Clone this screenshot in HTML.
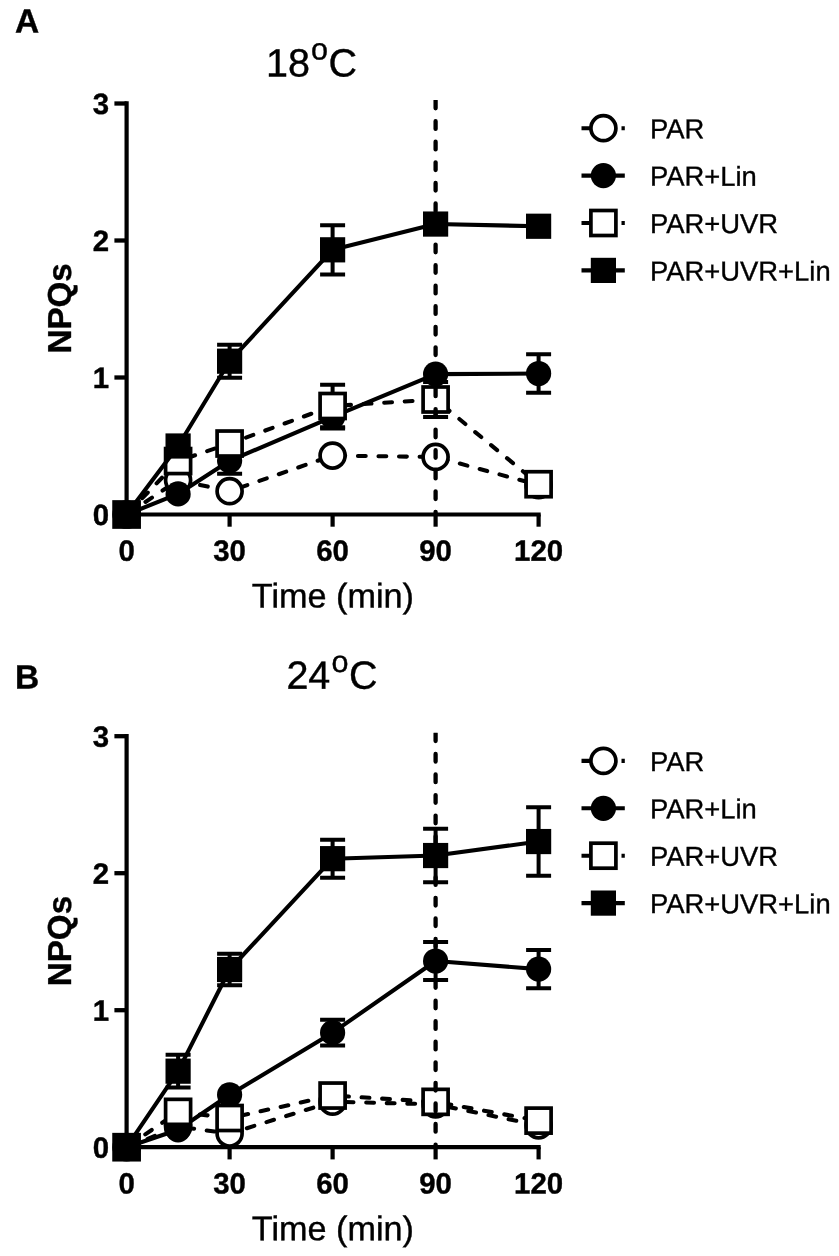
<!DOCTYPE html>
<html lang="en"><head><meta charset="utf-8"><title>NPQs</title>
<style>
html,body{margin:0;padding:0;background:#fff}
body{width:839px;height:1256px;overflow:hidden}
svg{display:block}
text{font-family:"Liberation Sans",sans-serif;fill:#000}
.tk{font-weight:bold;font-size:29.4px;stroke:#000;stroke-width:0.4px}
.lg{font-size:27.4px;stroke:#000;stroke-width:0.35px}
.ax{font-size:34.2px;stroke:#000;stroke-width:0.4px}
.yl{font-weight:bold;font-size:33.2px;stroke:#000;stroke-width:0.4px}
.tt{font-size:39.5px;stroke:#000;stroke-width:0.4px}
.sup{font-size:30.5px;stroke:#000;stroke-width:0.4px}
.pl{font-weight:bold;font-size:33.5px;stroke:#000;stroke-width:0.4px}
</style></head><body>
<svg width="839" height="1256" viewBox="0 0 839 1256">
<rect width="839" height="1256" fill="#fff"/>
<path d="M126.60 101.30V516.60" stroke="#000" stroke-width="4.2" fill="none"/>
<path d="M124.50 514.50H540.70" stroke="#000" stroke-width="4.2" fill="none"/>
<path d="M114.40 514.50H126.60" stroke="#000" stroke-width="4.3"/>
<text transform="translate(109.00 525.00) rotate(0.03)" class="tk" text-anchor="end">0</text>
<path d="M114.40 377.50H126.60" stroke="#000" stroke-width="4.3"/>
<text transform="translate(109.00 388.00) rotate(0.03)" class="tk" text-anchor="end">1</text>
<path d="M114.40 240.50H126.60" stroke="#000" stroke-width="4.3"/>
<text transform="translate(109.00 251.00) rotate(0.03)" class="tk" text-anchor="end">2</text>
<path d="M114.40 103.50H126.60" stroke="#000" stroke-width="4.3"/>
<text transform="translate(109.00 114.00) rotate(0.03)" class="tk" text-anchor="end">3</text>
<path d="M126.60 514.50V526.70" stroke="#000" stroke-width="4.2"/>
<text transform="translate(126.60 560.70) rotate(0.03)" class="tk" text-anchor="middle">0</text>
<path d="M229.60 514.50V526.70" stroke="#000" stroke-width="4.2"/>
<text transform="translate(229.60 560.70) rotate(0.03)" class="tk" text-anchor="middle">30</text>
<path d="M332.60 514.50V526.70" stroke="#000" stroke-width="4.2"/>
<text transform="translate(332.60 560.70) rotate(0.03)" class="tk" text-anchor="middle">60</text>
<path d="M435.60 514.50V526.70" stroke="#000" stroke-width="4.2"/>
<text transform="translate(435.60 560.70) rotate(0.03)" class="tk" text-anchor="middle">90</text>
<path d="M538.60 514.50V526.70" stroke="#000" stroke-width="4.2"/>
<text transform="translate(538.60 560.70) rotate(0.03)" class="tk" text-anchor="middle">120</text>
<g><path d="M126.60 514.50 L178.10 480.25 L229.60 491.21 L332.60 455.59 L435.60 456.96 L538.60 485.05" stroke="#000" stroke-width="4.1" fill="none" stroke-linejoin="round" stroke-linecap="round" stroke-dasharray="7.8 12.76" stroke-dashoffset="-2.1"/><circle cx="126.60" cy="514.50" r="12.5" fill="#fff" stroke="#000" stroke-width="3.7"/><circle cx="178.10" cy="480.25" r="12.5" fill="#fff" stroke="#000" stroke-width="3.7"/><circle cx="229.60" cy="491.21" r="12.5" fill="#fff" stroke="#000" stroke-width="3.7"/><circle cx="332.60" cy="455.59" r="12.5" fill="#fff" stroke="#000" stroke-width="3.7"/><circle cx="435.60" cy="456.96" r="12.5" fill="#fff" stroke="#000" stroke-width="3.7"/><circle cx="538.60" cy="485.05" r="12.5" fill="#fff" stroke="#000" stroke-width="3.7"/></g>
<g><path d="M229.60 447.73V473.87M217.10 447.73h25M217.10 473.87h25" stroke="#000" stroke-width="4.0" fill="none"/><path d="M332.60 405.31V428.60M320.10 405.31h25M320.10 428.60h25" stroke="#000" stroke-width="4.0" fill="none"/><path d="M538.60 354.21V392.84M526.10 354.21h25M526.10 392.84h25" stroke="#000" stroke-width="4.0" fill="none"/><path d="M126.60 514.50 L178.10 493.95 L229.60 460.80 L332.60 416.96 L435.60 374.08 L538.60 373.53" stroke="#000" stroke-width="4.1" fill="none" stroke-linejoin="round"/><circle cx="126.60" cy="514.50" r="12.6" fill="#000"/><circle cx="178.10" cy="493.95" r="12.6" fill="#000"/><circle cx="229.60" cy="460.80" r="12.6" fill="#000"/><circle cx="332.60" cy="416.96" r="12.6" fill="#000"/><circle cx="435.60" cy="374.08" r="12.6" fill="#000"/><circle cx="538.60" cy="373.53" r="12.6" fill="#000"/></g>
<g><path d="M332.60 384.76V427.23M320.10 384.76h25M320.10 427.23h25" stroke="#000" stroke-width="4.0" fill="none"/><path d="M435.60 381.97V417.04M423.10 381.97h25M423.10 417.04h25" stroke="#000" stroke-width="4.0" fill="none"/><path d="M126.60 514.50 L178.10 461.07 L229.60 443.53 L332.60 406.00 L435.60 399.50 L538.60 484.22" stroke="#000" stroke-width="4.1" fill="none" stroke-linejoin="round" stroke-linecap="round" stroke-dasharray="7.8 12.76" stroke-dashoffset="-2.1"/><rect x="114.10" y="502.00" width="25" height="25" fill="#fff" stroke="#000" stroke-width="3.7"/><rect x="165.60" y="448.57" width="25" height="25" fill="#fff" stroke="#000" stroke-width="3.7"/><rect x="217.10" y="431.03" width="25" height="25" fill="#fff" stroke="#000" stroke-width="3.7"/><rect x="320.10" y="393.50" width="25" height="25" fill="#fff" stroke="#000" stroke-width="3.7"/><rect x="423.10" y="387.00" width="25" height="25" fill="#fff" stroke="#000" stroke-width="3.7"/><rect x="526.10" y="471.72" width="25" height="25" fill="#fff" stroke="#000" stroke-width="3.7"/></g>
<g><path d="M229.60 344.76V377.64M217.10 344.76h25M217.10 377.64h25" stroke="#000" stroke-width="4.0" fill="none"/><path d="M332.60 225.16V274.48M320.10 225.16h25M320.10 274.48h25" stroke="#000" stroke-width="4.0" fill="none"/><path d="M126.60 514.50 L178.10 446.00 L229.60 361.20 L332.60 249.82 L435.60 224.06 L538.60 226.25" stroke="#000" stroke-width="4.1" fill="none" stroke-linejoin="round"/><rect x="114.00" y="501.90" width="25.2" height="25.2" fill="#000"/><rect x="165.50" y="433.40" width="25.2" height="25.2" fill="#000"/><rect x="217.00" y="348.60" width="25.2" height="25.2" fill="#000"/><rect x="320.00" y="237.22" width="25.2" height="25.2" fill="#000"/><rect x="423.00" y="211.46" width="25.2" height="25.2" fill="#000"/><rect x="526.00" y="213.65" width="25.2" height="25.2" fill="#000"/></g>
<clipPath id="cA"><rect x="429.60" y="100.10" width="12" height="421.00"/></clipPath>
<path clip-path="url(#cA)" d="M435.60 100.65V514.50" stroke="#000" stroke-width="4.3" stroke-linecap="round" stroke-dasharray="7.7 12.86" fill="none"/>
<path d="M581.5 128.20H624.8" stroke="#000" stroke-width="4.1" stroke-dasharray="12 8"/>
<circle cx="603.40" cy="128.20" r="12.5" fill="#fff" stroke="#000" stroke-width="3.7"/>
<text transform="translate(650.00 138.20) rotate(0.03)" class="lg">PAR</text>
<path d="M581.5 175.60H624.8" stroke="#000" stroke-width="4.1"/>
<circle cx="603.40" cy="175.60" r="12.6" fill="#000"/>
<text transform="translate(650.00 185.60) rotate(0.03)" class="lg">PAR+Lin</text>
<path d="M581.5 223.00H624.8" stroke="#000" stroke-width="4.1" stroke-dasharray="12 8"/>
<rect x="590.90" y="210.50" width="25" height="25" fill="#fff" stroke="#000" stroke-width="3.7"/>
<text transform="translate(650.00 233.00) rotate(0.03)" class="lg">PAR+UVR</text>
<path d="M581.5 270.40H624.8" stroke="#000" stroke-width="4.1"/>
<rect x="590.80" y="257.80" width="25.2" height="25.2" fill="#000"/>
<text transform="translate(650.00 280.40) rotate(0.03)" class="lg">PAR+UVR+Lin</text>
<text transform="translate(332.90 607.50) rotate(0.03)" class="ax" text-anchor="middle">Time (min)</text>
<text transform="translate(71.00 308.40) rotate(-90.03)" class="yl" text-anchor="middle">NPQs</text>
<text transform="translate(266.00 76.50) rotate(0.03)" class="tt">18</text>
<text transform="translate(319.60 59.60) rotate(0.03)" class="sup" text-anchor="middle">o</text>
<text transform="translate(342.80 76.50) rotate(0.03)" class="tt" text-anchor="middle">C</text>
<text transform="translate(15.00 32.50) rotate(0.03)" class="pl">A</text>
<path d="M126.60 734.00V1149.30" stroke="#000" stroke-width="4.2" fill="none"/>
<path d="M124.50 1147.20H540.70" stroke="#000" stroke-width="4.2" fill="none"/>
<path d="M114.40 1147.20H126.60" stroke="#000" stroke-width="4.3"/>
<text transform="translate(109.00 1157.70) rotate(0.03)" class="tk" text-anchor="end">0</text>
<path d="M114.40 1010.20H126.60" stroke="#000" stroke-width="4.3"/>
<text transform="translate(109.00 1020.70) rotate(0.03)" class="tk" text-anchor="end">1</text>
<path d="M114.40 873.20H126.60" stroke="#000" stroke-width="4.3"/>
<text transform="translate(109.00 883.70) rotate(0.03)" class="tk" text-anchor="end">2</text>
<path d="M114.40 736.20H126.60" stroke="#000" stroke-width="4.3"/>
<text transform="translate(109.00 746.70) rotate(0.03)" class="tk" text-anchor="end">3</text>
<path d="M126.60 1147.20V1159.40" stroke="#000" stroke-width="4.2"/>
<text transform="translate(126.60 1193.40) rotate(0.03)" class="tk" text-anchor="middle">0</text>
<path d="M229.60 1147.20V1159.40" stroke="#000" stroke-width="4.2"/>
<text transform="translate(229.60 1193.40) rotate(0.03)" class="tk" text-anchor="middle">30</text>
<path d="M332.60 1147.20V1159.40" stroke="#000" stroke-width="4.2"/>
<text transform="translate(332.60 1193.40) rotate(0.03)" class="tk" text-anchor="middle">60</text>
<path d="M435.60 1147.20V1159.40" stroke="#000" stroke-width="4.2"/>
<text transform="translate(435.60 1193.40) rotate(0.03)" class="tk" text-anchor="middle">90</text>
<path d="M538.60 1147.20V1159.40" stroke="#000" stroke-width="4.2"/>
<text transform="translate(538.60 1193.40) rotate(0.03)" class="tk" text-anchor="middle">120</text>
<g><path d="M126.60 1147.20 L178.10 1126.65 L229.60 1133.50 L332.60 1101.72 L435.60 1104.32 L538.60 1125.28" stroke="#000" stroke-width="4.1" fill="none" stroke-linejoin="round" stroke-linecap="round" stroke-dasharray="7.8 12.76" stroke-dashoffset="-2.1"/><circle cx="126.60" cy="1147.20" r="12.5" fill="#fff" stroke="#000" stroke-width="3.7"/><circle cx="178.10" cy="1126.65" r="12.5" fill="#fff" stroke="#000" stroke-width="3.7"/><circle cx="229.60" cy="1133.50" r="12.5" fill="#fff" stroke="#000" stroke-width="3.7"/><circle cx="332.60" cy="1101.72" r="12.5" fill="#fff" stroke="#000" stroke-width="3.7"/><circle cx="435.60" cy="1104.32" r="12.5" fill="#fff" stroke="#000" stroke-width="3.7"/><circle cx="538.60" cy="1125.28" r="12.5" fill="#fff" stroke="#000" stroke-width="3.7"/></g>
<g><path d="M332.60 1019.79V1045.55M320.10 1019.79h25M320.10 1045.55h25" stroke="#000" stroke-width="4.0" fill="none"/><path d="M435.60 941.97V980.06M423.10 941.97h25M423.10 980.06h25" stroke="#000" stroke-width="4.0" fill="none"/><path d="M538.60 950.06V988.14M526.10 950.06h25M526.10 988.14h25" stroke="#000" stroke-width="4.0" fill="none"/><path d="M126.60 1147.20 L178.10 1129.80 L229.60 1094.73 L332.60 1032.67 L435.60 961.02 L538.60 969.10" stroke="#000" stroke-width="4.1" fill="none" stroke-linejoin="round"/><circle cx="126.60" cy="1147.20" r="12.6" fill="#000"/><circle cx="178.10" cy="1129.80" r="12.6" fill="#000"/><circle cx="229.60" cy="1094.73" r="12.6" fill="#000"/><circle cx="332.60" cy="1032.67" r="12.6" fill="#000"/><circle cx="435.60" cy="961.02" r="12.6" fill="#000"/><circle cx="538.60" cy="969.10" r="12.6" fill="#000"/></g>
<g><path d="M126.60 1147.20 L178.10 1111.85 L229.60 1118.02 L332.60 1095.55 L435.60 1101.85 L538.60 1120.62" stroke="#000" stroke-width="4.1" fill="none" stroke-linejoin="round" stroke-linecap="round" stroke-dasharray="7.8 12.76" stroke-dashoffset="-2.1"/><rect x="114.10" y="1134.70" width="25" height="25" fill="#fff" stroke="#000" stroke-width="3.7"/><rect x="165.60" y="1099.35" width="25" height="25" fill="#fff" stroke="#000" stroke-width="3.7"/><rect x="217.10" y="1105.52" width="25" height="25" fill="#fff" stroke="#000" stroke-width="3.7"/><rect x="320.10" y="1083.05" width="25" height="25" fill="#fff" stroke="#000" stroke-width="3.7"/><rect x="423.10" y="1089.35" width="25" height="25" fill="#fff" stroke="#000" stroke-width="3.7"/><rect x="526.10" y="1108.12" width="25" height="25" fill="#fff" stroke="#000" stroke-width="3.7"/></g>
<g><path d="M178.10 1054.73V1087.61M165.60 1054.73h25M165.60 1087.61h25" stroke="#000" stroke-width="4.0" fill="none"/><path d="M229.60 953.76V985.27M217.10 953.76h25M217.10 985.27h25" stroke="#000" stroke-width="4.0" fill="none"/><path d="M332.60 839.63V877.72M320.10 839.63h25M320.10 877.72h25" stroke="#000" stroke-width="4.0" fill="none"/><path d="M435.60 828.81V882.24M423.10 828.81h25M423.10 882.24h25" stroke="#000" stroke-width="4.0" fill="none"/><path d="M538.60 807.30V875.80M526.10 807.30h25M526.10 875.80h25" stroke="#000" stroke-width="4.0" fill="none"/><path d="M126.60 1147.20 L178.10 1071.16 L229.60 969.51 L332.60 858.68 L435.60 855.53 L538.60 841.55" stroke="#000" stroke-width="4.1" fill="none" stroke-linejoin="round"/><rect x="114.00" y="1134.60" width="25.2" height="25.2" fill="#000"/><rect x="165.50" y="1058.57" width="25.2" height="25.2" fill="#000"/><rect x="217.00" y="956.91" width="25.2" height="25.2" fill="#000"/><rect x="320.00" y="846.08" width="25.2" height="25.2" fill="#000"/><rect x="423.00" y="842.93" width="25.2" height="25.2" fill="#000"/><rect x="526.00" y="828.95" width="25.2" height="25.2" fill="#000"/></g>
<clipPath id="cB"><rect x="429.60" y="732.80" width="12" height="421.00"/></clipPath>
<path clip-path="url(#cB)" d="M435.60 733.35V1147.20" stroke="#000" stroke-width="4.3" stroke-linecap="round" stroke-dasharray="7.7 12.86" fill="none"/>
<path d="M581.5 760.90H624.8" stroke="#000" stroke-width="4.1" stroke-dasharray="12 8"/>
<circle cx="603.40" cy="760.90" r="12.5" fill="#fff" stroke="#000" stroke-width="3.7"/>
<text transform="translate(650.00 770.90) rotate(0.03)" class="lg">PAR</text>
<path d="M581.5 808.30H624.8" stroke="#000" stroke-width="4.1"/>
<circle cx="603.40" cy="808.30" r="12.6" fill="#000"/>
<text transform="translate(650.00 818.30) rotate(0.03)" class="lg">PAR+Lin</text>
<path d="M581.5 855.70H624.8" stroke="#000" stroke-width="4.1" stroke-dasharray="12 8"/>
<rect x="590.90" y="843.20" width="25" height="25" fill="#fff" stroke="#000" stroke-width="3.7"/>
<text transform="translate(650.00 865.70) rotate(0.03)" class="lg">PAR+UVR</text>
<path d="M581.5 903.10H624.8" stroke="#000" stroke-width="4.1"/>
<rect x="590.80" y="890.50" width="25.2" height="25.2" fill="#000"/>
<text transform="translate(650.00 913.10) rotate(0.03)" class="lg">PAR+UVR+Lin</text>
<text transform="translate(332.90 1240.20) rotate(0.03)" class="ax" text-anchor="middle">Time (min)</text>
<text transform="translate(71.00 941.10) rotate(-90.03)" class="yl" text-anchor="middle">NPQs</text>
<text transform="translate(286.40 688.80) rotate(0.03)" class="tt">24</text>
<text transform="translate(340.00 671.90) rotate(0.03)" class="sup" text-anchor="middle">o</text>
<text transform="translate(363.20 688.80) rotate(0.03)" class="tt" text-anchor="middle">C</text>
<text transform="translate(15.00 688.50) rotate(0.03)" class="pl">B</text>
</svg>
</body></html>
